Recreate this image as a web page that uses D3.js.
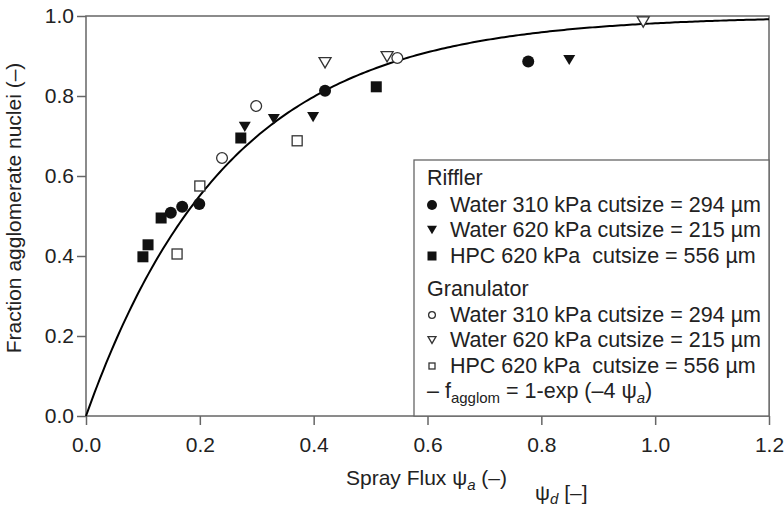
<!DOCTYPE html>
<html>
<head>
<meta charset="utf-8">
<script src="https://cdn.jsdelivr.net/npm/d3@7"></script>
<style>
  html, body { margin: 0; padding: 0; background: #fff; overflow: hidden; }
  svg { display: block; font-family: "Liberation Sans", Arial, Helvetica, sans-serif; }
</style>
</head>
<body>
<div id="chart"></div>
<script>
// Datos (psi_a, fraccion)
const rifflerWater310 = [[0.149, 0.508], [0.169, 0.523], [0.199, 0.530], [0.420, 0.813], [0.777, 0.886]];
const rifflerWater620 = [[0.279, 0.723], [0.330, 0.742], [0.399, 0.747], [0.849, 0.890]];
const rifflerHPC620   = [[0.100, 0.398], [0.109, 0.428], [0.132, 0.495], [0.272, 0.695], [0.510, 0.823]];
const granWater310    = [[0.239, 0.645], [0.299, 0.775], [0.547, 0.895]];
const granWater620    = [[0.420, 0.883], [0.529, 0.898], [0.979, 0.985]];
const granHPC620      = [[0.160, 0.405], [0.200, 0.575], [0.371, 0.688]];

const xTicks = [0, 0.2, 0.4, 0.6, 0.8, 1.0, 1.2];
const yTicks = [0, 0.2, 0.4, 0.6, 0.8, 1.0];

const width = 784, height = 506;
const margin = {top: 16, right: 15, bottom: 90, left: 86};
const innerWidth = width - margin.left - margin.right;
const innerHeight = height - margin.top - margin.bottom;

const svg = d3.select("#chart").append("svg")
    .attr("width", width).attr("height", height);

const g = svg.append("g")
    .attr("transform", `translate(${margin.left},${margin.top})`);

const x = d3.scaleLinear().domain([0, 1.2]).range([0, innerWidth]);
const y = d3.scaleLinear().domain([0, 1]).range([innerHeight, 0]);

const axisColor = "#666";
const textColor = "#222";

// marco
g.append("rect")
    .attr("width", innerWidth).attr("height", innerHeight)
    .attr("fill", "none").attr("stroke", axisColor).attr("stroke-width", 1.5);

const xAxis = g.append("g")
    .attr("transform", `translate(0,${innerHeight})`)
    .call(d3.axisBottom(x).tickValues(xTicks).tickFormat(d3.format(".1f")).tickSize(9).tickPadding(12));

const yAxis = g.append("g")
    .call(d3.axisLeft(y).tickValues(yTicks).tickFormat(d3.format(".1f")).tickSize(9).tickPadding(3));

[xAxis, yAxis].forEach(a => {
    a.select(".domain").remove();
    a.selectAll("line").attr("stroke", axisColor).attr("stroke-width", 1.5);
    a.selectAll("text").attr("fill", textColor).style("font-size", "21px")
        .style("font-family", '"Liberation Sans", Arial, sans-serif');
});

// etiquetas de ejes
g.append("text")
    .attr("transform", "rotate(-90)")
    .attr("x", -innerHeight / 2 + 8).attr("y", -65)
    .attr("text-anchor", "middle")
    .attr("fill", textColor).style("font-size", "21px")
    .text("Fraction agglomerate nuclei (–)");

const xl = svg.append("text")
    .attr("x", 346).attr("y", 485)
    .attr("fill", textColor).style("font-size", "21px");
xl.append("tspan").text("Spray Flux ψ");
xl.append("tspan").attr("dy", 5).style("font-size", "15px").style("font-style", "italic").text("a");
xl.append("tspan").attr("dy", -5).text(" (–)");

const xd = svg.append("text")
    .attr("x", 535).attr("y", 500)
    .attr("fill", textColor).style("font-size", "21px");
xd.append("tspan").text("ψ");
xd.append("tspan").attr("dy", 4).style("font-size", "15px").style("font-style", "italic").text("d");
xd.append("tspan").attr("dy", -4).text(" [–]");

// curva modelo f = 1 - exp(-4 psi)
const curve = d3.range(0, 1.2001, 0.005).map(p => [p, 1 - Math.exp(-4 * p)]);
g.append("path")
    .datum(curve)
    .attr("fill", "none").attr("stroke", "#000").attr("stroke-width", 2)
    .attr("d", d3.line().x(d => x(d[0])).y(d => y(d[1])));

// series
const series = [
    {data: rifflerWater310, shape: "circle", filled: true},
    {data: rifflerWater620, shape: "triangle", filled: true},
    {data: rifflerHPC620, shape: "square", filled: true},
    {data: granWater310, shape: "circle", filled: false},
    {data: granWater620, shape: "triangle", filled: false},
    {data: granHPC620, shape: "square", filled: false}
];

const drawMarker = (sel, shape, filled, size) => {
    const fill = filled ? "#111" : "#fff";
    const stroke = filled ? "none" : "#333";
    if (shape === "circle") {
        sel.append("circle").attr("r", size / 2 - (filled ? 0 : 0.6))
            .attr("fill", fill).attr("stroke", stroke).attr("stroke-width", 1.3);
    } else if (shape === "square") {
        const s = size - (filled ? 1 : 2);
        sel.append("rect").attr("x", -s / 2).attr("y", -s / 2).attr("width", s).attr("height", s)
            .attr("fill", fill).attr("stroke", stroke).attr("stroke-width", 1.3);
    } else {
        const w = size, h = size * 0.85;
        sel.append("path")
            .attr("d", `M${-w / 2},${-h / 2}L${w / 2},${-h / 2}L0,${h / 2}Z`)
            .attr("fill", fill).attr("stroke", stroke).attr("stroke-width", 1.3);
    }
};

series.forEach(s => {
    g.append("g").selectAll("g")
        .data(s.data)
        .join("g")
        .attr("transform", d => `translate(${x(d[0])},${y(d[1])})`)
        .each(function() { drawMarker(d3.select(this), s.shape, s.filled, 12); });
});

// leyenda
const legendX = 414, legendY = 160;
svg.append("rect")
    .attr("x", legendX).attr("y", legendY)
    .attr("width", margin.left + innerWidth - legendX).attr("height", margin.top + innerHeight - legendY)
    .attr("fill", "#fff").attr("stroke", axisColor).attr("stroke-width", 1.3);

const legendItems = [
    {label: "Riffler", y: 185},
    {label: "Water 310 kPa cutsize = 294 µm", y: 212, shape: "circle", filled: true},
    {label: "Water 620 kPa cutsize = 215 µm", y: 237, shape: "triangle", filled: true},
    {label: "HPC 620 kPa  cutsize = 556 µm", y: 263, shape: "square", filled: true},
    {label: "Granulator", y: 296},
    {label: "Water 310 kPa cutsize = 294 µm", y: 322, shape: "circle", filled: false},
    {label: "Water 620 kPa cutsize = 215 µm", y: 347, shape: "triangle", filled: false},
    {label: "HPC 620 kPa  cutsize = 556 µm", y: 373, shape: "square", filled: false}
];

legendItems.forEach(it => {
    if (it.shape) {
        const mg = svg.append("g").attr("transform", `translate(432,${it.y - 7})`);
        drawMarker(mg, it.shape, it.filled, it.filled ? 10 : 8);
    }
    svg.append("text")
        .attr("x", it.shape ? 450 : 427).attr("y", it.y)
        .attr("fill", textColor).style("font-size", "21.5px")
        .style("white-space", "pre")
        .text(it.label);
});

const ft = svg.append("text")
    .attr("x", 427).attr("y", 398)
    .attr("fill", textColor).style("font-size", "21.5px")
    .style("white-space", "pre");
ft.append("tspan").text("– f");
ft.append("tspan").attr("dy", 5).style("font-size", "15px").text("agglom");
ft.append("tspan").attr("dy", -5).text(" = 1-exp (–4 ψ");
ft.append("tspan").attr("dy", 5).style("font-size", "15px").style("font-style", "italic").text("a");
ft.append("tspan").attr("dy", -5).text(")");
</script>
</body>
</html>
